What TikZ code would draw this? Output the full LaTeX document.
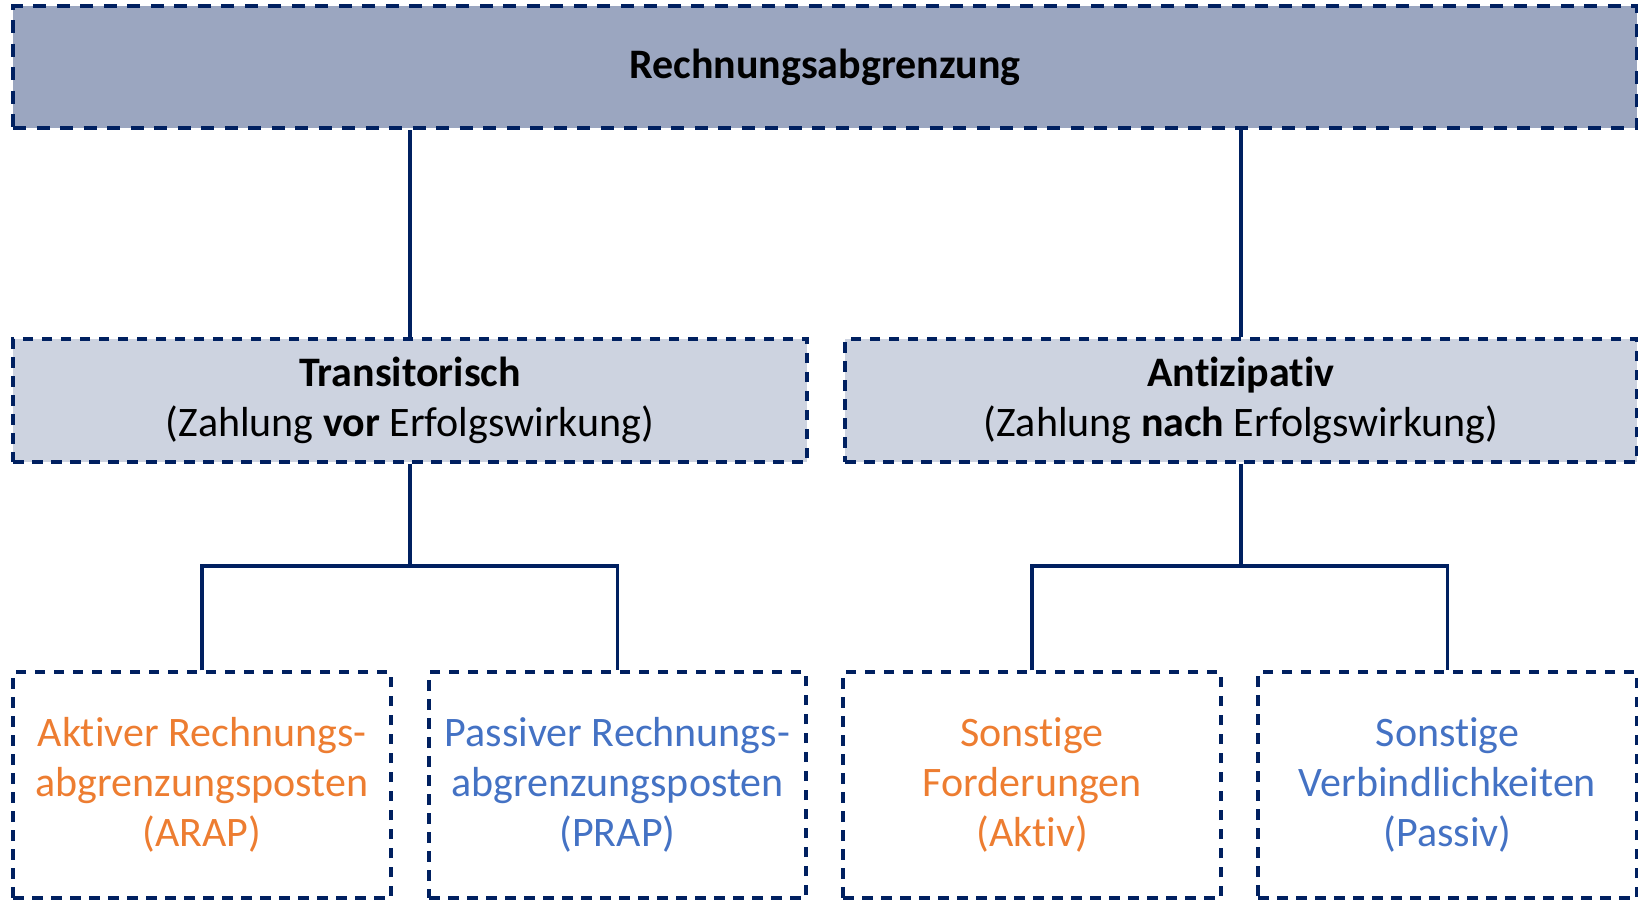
\documentclass[tikz,border=0pt]{standalone}
\usepackage{fontspec}
\setmainfont{Carlito}[RawFeature={-liga;-clig;-calt;-dlig}]
\newcommand{\tI}{t\kern0pt i}
\definecolor{navy}{HTML}{002060}
\definecolor{topfill}{HTML}{9BA6C0}
\definecolor{midfill}{HTML}{CDD3E0}
\definecolor{orangetxt}{HTML}{ED7D31}
\definecolor{bluetxt}{HTML}{4472C4}
\begin{document}
\begin{tikzpicture}[x={(1pt,0)},y={(0,-1pt)},
  every node/.style={font=\fontsize{42}{50}\selectfont, align=center, inner sep=0pt},
  topbox/.style={draw=navy, fill=topfill, line width=4pt, dash pattern=on 13pt off 10.5pt, rectangle, minimum width=1624pt, minimum height=122pt},
  midbox/.style={draw=navy, fill=midfill, line width=3.3pt, dash pattern=on 10.5pt off 8.5pt, rectangle, minimum width=794pt, minimum height=123pt},
  leafbox/.style={draw=navy, line width=3.3pt, dash pattern=on 10.5pt off 8.5pt, rectangle, minimum width=378pt, minimum height=226pt},
  conn/.style={draw=navy, line width=3.3pt}]
\useasboundingbox (0,0) rectangle (1638,900);
\node[topbox] (top) at (825,67) {\textbf{Rechnungsabgrenzung}};
\node[midbox] (midL) at (410,400.5) {\textbf{Transitorisch}\\(Zahlung \textbf{vor} Erfolgswirkung)};
\node[midbox, minimum width=792pt] (midR) at (1241,400.5) {\textbf{An\tI zipa\tI v}\\(Zahlung \textbf{nach} Erfolgswirkung)};
\node[leafbox, text=orangetxt] (b1) at (202,785) {Ak\tI ver Rechnungs-\\abgrenzungsposten\\(ARAP)};
\node[leafbox, text=bluetxt, minimum width=377pt] (b2) at (617.5,785) {Passiver Rechnungs-\\abgrenzungsposten\\(PRAP)};
\node[leafbox, text=orangetxt] (b3) at (1032,785) {Sons\tI ge\\Forderungen\\(Ak\tI v)};
\node[leafbox, text=bluetxt, minimum width=379pt] (b4) at (1447.5,785) {Sons\tI ge\\Verbindlichkeiten\\(Passiv)};
\coordinate (jL) at (410,566);
\coordinate (jR) at (1241,566);
\draw[conn] (top.south -| midL.north) -- (midL.north);
\draw[conn] (top.south -| midR.north) -- (midR.north);
\draw[conn] (midL.south) -- (jL);
\draw[conn] (midR.south) -- (jR);
\draw[conn] (b1.north) |- (jL) -| (b2.north);
\draw[conn] (b3.north) |- (jR) -| (b4.north);
\end{tikzpicture}
\end{document}
